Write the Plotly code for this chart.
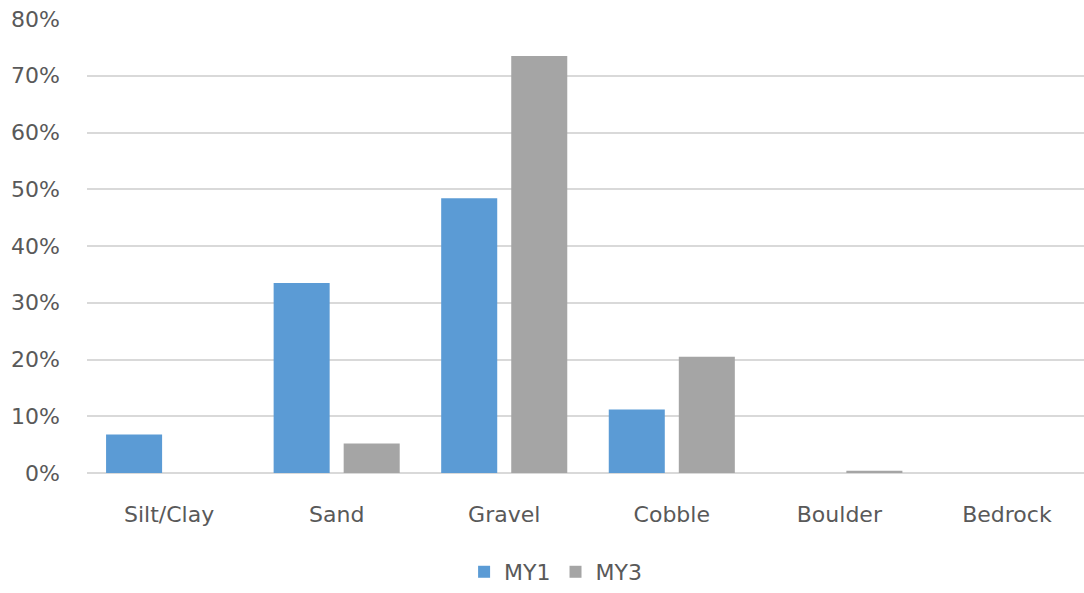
import plotly.graph_objects as go

categories = ["Silt/Clay", "Sand", "Gravel", "Cobble", "Boulder", "Bedrock"]
my1 = [0.068, 0.335, 0.484, 0.112, 0.0, 0.0]
my3 = [0.0, 0.052, 0.735, 0.205, 0.004, 0.0]
y_ticks = [0, 0.1, 0.2, 0.3, 0.4, 0.5, 0.6, 0.7, 0.8]

BLUE = "#5B9BD5"
GRAY = "#A5A5A5"
TEXT = "#595959"
GRID = "#D9D9D9"
FONT = "DejaVu Sans, sans-serif"

fig = go.Figure()
fig.add_trace(go.Bar(name="MY1", x=categories, y=my1, marker_color=BLUE,
                     marker_line_width=0))
fig.add_trace(go.Bar(name="MY3", x=categories, y=my3, marker_color=GRAY,
                     marker_line_width=0))

fig.update_layout(
    width=1084, height=593,
    margin=dict(l=87, r=0, t=19, b=120),
    paper_bgcolor="white", plot_bgcolor="white",
    barmode="group", bargap=0.164, bargroupgap=0.2,
    font=dict(family=FONT, size=22, color=TEXT),
    showlegend=True,
    legend=dict(orientation="h", x=0.47, xanchor="center", y=-0.218,
                yanchor="middle", font=dict(size=22, color=TEXT),
                itemwidth=30, traceorder="normal"),
    hovermode=False,
)
fig.update_xaxes(range=[-0.49, 5.46], showgrid=False, showline=False,
                 ticks="", ticklabelstandoff=26,
                 tickfont=dict(size=22, color=TEXT))
fig.update_yaxes(range=[0, 0.8], tickvals=y_ticks, tickformat=".0%",
                 showgrid=True, gridcolor=GRID, gridwidth=2,
                 zeroline=True, zerolinecolor=GRID, zerolinewidth=2,
                 showline=False, ticks="", ticklabelstandoff=26,
                 tickfont=dict(size=22, color=TEXT))

fig.write_html("out.html")
